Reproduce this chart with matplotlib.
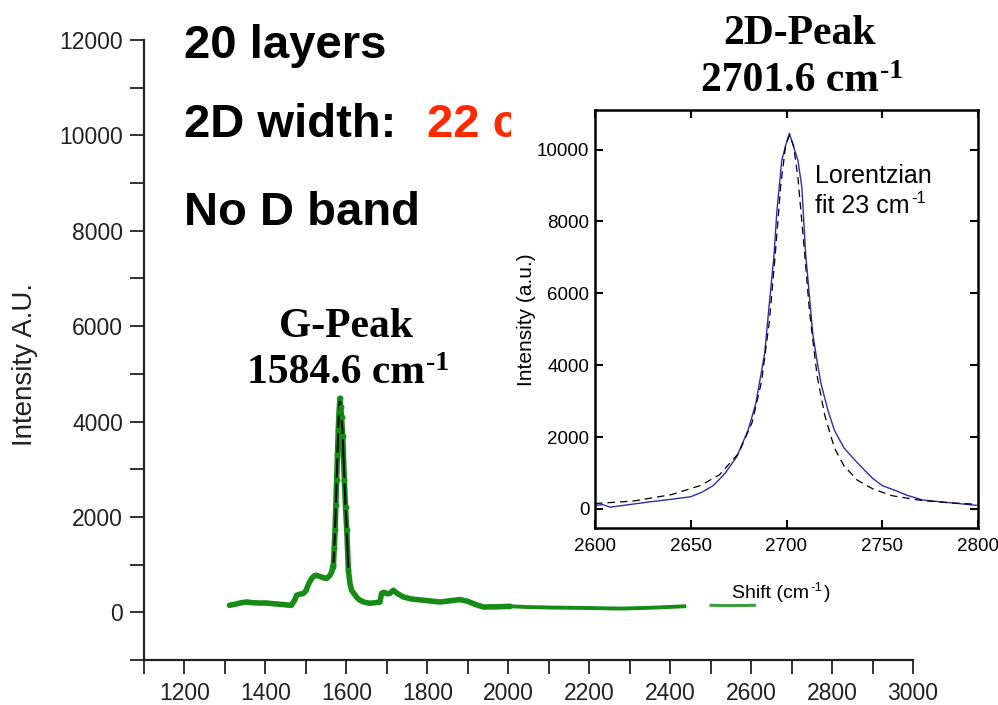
import matplotlib
matplotlib.use("Agg")
import matplotlib.pyplot as plt
from matplotlib.ticker import MultipleLocator
from matplotlib.transforms import Bbox

plt.rcParams["font.family"] = ["Liberation Sans", "DejaVu Sans"]

# main Raman spectrum
g_shift = [1311, 1325, 1340, 1353, 1370, 1385, 1402, 1420, 1440, 1464, 1472,
           1477, 1485, 1493, 1500, 1507, 1514, 1520, 1526, 1535, 1545, 1551,
           1558, 1564, 1566, 1568, 1570, 1572, 1574, 1576, 1578, 1580, 1582,
           1584, 1586, 1588, 1591, 1595, 1598, 1601, 1605, 1609, 1613, 1620,
           1627, 1634, 1645, 1658, 1670, 1683, 1687, 1693, 1700, 1708, 1716,
           1725, 1741, 1760, 1791, 1832, 1860, 1881, 1900, 1920, 1939, 1970,
           2005]
g_int = [147, 170, 200, 216, 200, 195, 195, 180, 165, 147, 250,
         357, 380, 392, 450, 600, 707, 760, 777, 750, 720, 707,
         760, 846, 950, 1000, 1350, 1720, 2250, 2770, 3300, 3820, 4200,
         4486, 4300, 4100, 3700, 2770, 2200, 1720, 880, 600, 460, 380,
         300, 250, 210, 190, 200, 215, 400, 420, 390, 400, 462,
         400, 321, 280, 252, 216, 245, 267, 230, 160, 111, 115,
         126]
tail_shift = [2005, 2050, 2113, 2200, 2278, 2350, 2435]
tail_int = [126, 110, 99, 90, 78, 95, 126]
tail2_shift = [2501, 2550, 2608]
tail2_int = [147, 140, 147]

# inset: 2D band data and Lorentzian fit
d_shift = [2600, 2604, 2608, 2615, 2629, 2640, 2650, 2656, 2662, 2668, 2674,
           2680, 2684, 2688.6, 2691, 2693.4, 2695, 2697.5, 2700, 2701.5, 2703,
           2706, 2708, 2710, 2713.7, 2716, 2718, 2721.6, 2725, 2730, 2735,
           2739, 2745, 2750, 2756, 2763, 2771, 2780, 2790, 2799]
d_int = [100, 120, 50, 100, 200, 270, 340, 470, 660, 1000, 1450,
         2200, 2940, 4330, 5700, 7010, 8300, 9690, 10200, 10450, 10200,
         9690, 8960, 7100, 4880, 4100, 3490, 2750, 2190, 1700, 1400,
         1175, 850, 650, 530, 380, 250, 200, 150, 100]
f_shift = [2600, 2620, 2640, 2655, 2665, 2675, 2682, 2687, 2691, 2694, 2697,
           2699.5, 2701.6, 2703.7, 2706, 2709, 2712, 2716, 2720, 2725, 2730,
           2737, 2745, 2755, 2770, 2785, 2800]
f_int = [150, 220, 400, 650, 950, 1550, 2400, 3550, 5200, 7000, 9000,
         10100, 10400, 10100, 9200, 7400, 5500, 3700, 2600, 1700, 1200,
         800, 560, 370, 240, 170, 130]

W, H = 998, 705
fig = plt.figure(figsize=(W / 100, H / 100), dpi=100)
serif = ["Liberation Serif", "DejaVu Serif"]


def sup(base, txt, size, **kw):
    # superscript hooked on the upper right corner of another text
    a = plt.Annotation(txt, xy=(1, 1), xycoords=base, fontsize=size,
                       ha="left", va="top", xytext=(1, 2),
                       textcoords="offset points", zorder=3, **kw)
    fig.add_artist(a)
    return a


ax = fig.add_axes([144 / W, 45 / H, (913 - 144) / W, 620 / H])
green = "#168c16"
ax.plot(g_shift, g_int, color=green, lw=4, solid_capstyle="round")
ax.plot(tail_shift, tail_int, color=green, lw=2.8)
ax.plot(tail2_shift, tail2_int, color=green, lw=2.2, alpha=0.85)
pk = [i for i, s in enumerate(g_shift) if 1565 <= s <= 1606]
ax.plot([g_shift[i] for i in pk], [g_int[i] for i in pk], color="black",
        lw=1.4, marker="o", ms=3.2, mfc=green, mec=green)

ax.set_xlim(1100, 3000)
ax.set_ylim(-1000, 12000)
ax.xaxis.set_minor_locator(MultipleLocator(100))
ax.yaxis.set_major_locator(MultipleLocator(2000))
ax.yaxis.set_minor_locator(MultipleLocator(1000))
ax.set_xticks(range(1200, 3001, 200))
for s in ["top", "right"]:
    ax.spines[s].set_visible(False)
for s in ["left", "bottom"]:
    ax.spines[s].set_linewidth(1.6)
    ax.spines[s].set_color("#222222")
ax.tick_params(which="both", direction="out", length=10, width=1.3,
               color="#222222", labelsize=16.5, pad=6, labelcolor="#222222")
ax.tick_params(axis="y", which="major", pad=5)
ax.patch.set_alpha(0)

fig.text(25 / W, 1 - 365 / H, "Intensity A.U.", rotation=90, ha="center",
         va="center", fontsize=20, color="#222222")

ax.text(184 / W, 1 - 58 / H, "20 layers", transform=fig.transFigure,
        fontsize=34, fontweight="bold", va="baseline")
ax.text(184 / W, 1 - 137 / H, "2D width:", transform=fig.transFigure,
        fontsize=34, fontweight="bold", va="baseline")
# the rest of the red value is hidden under the inset picture
red = ax.text(427 / W, 1 - 137 / H, "22 c", transform=fig.transFigure,
              fontsize=34, fontweight="bold", va="baseline", color="#ff2a00",
              clip_on=True)
red.set_clip_box(Bbox([[0, 0], [511, H]]))
ax.text(184 / W, 1 - 225 / H, "No D band", transform=fig.transFigure,
        fontsize=34, fontweight="bold", va="baseline")

fig.text(346 / W, 1 - 337 / H, "G-Peak", family=serif, fontsize=30,
         fontweight="bold", ha="center", va="baseline")
g2 = fig.text(336 / W, 1 - 383 / H, "1584.6 cm", family=serif,
              fontsize=30, fontweight="bold", ha="center", va="baseline")
sup(g2, "-1", 20, family=serif, fontweight="bold")

# white background of the inset picture
rect = plt.Rectangle((511 / W, 1 - 570 / H), (W - 511) / W, (570 - 96) / H,
                     transform=fig.transFigure, facecolor="white",
                     edgecolor="none", zorder=1)
fig.add_artist(rect)

fig.text(800 / W, 1 - 44 / H, "2D-Peak", family=serif, fontsize=30,
         fontweight="bold", ha="center", va="baseline")
p2 = fig.text(790 / W, 1 - 91 / H, "2701.6 cm", family=serif, fontsize=30,
              fontweight="bold", ha="center", va="baseline")
sup(p2, "-1", 20, family=serif, fontweight="bold")

axi = fig.add_axes([595 / W, (H - 528) / H, (978 - 595) / W, (528 - 110) / H])
axi.set_zorder(2)
axi.plot(d_shift, d_int, color="#2e2ea8", lw=1.0)
axi.plot(f_shift, f_int, color="black", lw=0.9, ls=(0, (6, 4)))
axi.set_xlim(2600, 2800)
axi.set_ylim(-530, 11100)
axi.set_xticks(range(2600, 2801, 50))
axi.set_yticks(range(0, 10001, 2000))
for s in axi.spines.values():
    s.set_linewidth(1.8)
axi.tick_params(direction="in", length=6, width=1.5, top=True, right=True,
                labelsize=13.5, pad=4)
axi.tick_params(axis="x", pad=7)

fig.text(527 / W, 1 - 320 / H, "Intensity (a.u.)", rotation=90, ha="center",
         va="center", fontsize=15, zorder=3)
sh = fig.text(732 / W, 1 - 598 / H, "Shift (cm", va="baseline", fontsize=14,
              zorder=3)
shs = sup(sh, "-1", 9.5)
fig.add_artist(plt.Annotation(")", xy=(1, 0), xycoords=(shs, sh), fontsize=14,
                              ha="left", va="bottom", xytext=(1, 0),
                              textcoords="offset points", zorder=3))
fig.text(815 / W, 1 - 183 / H, "Lorentzian", fontsize=18, va="baseline", zorder=3)
ft = fig.text(815 / W, 1 - 213 / H, "fit 23 cm", fontsize=18, va="baseline",
              zorder=3)
sup(ft, "-1", 12)

fig.savefig("out.png", dpi=100)
